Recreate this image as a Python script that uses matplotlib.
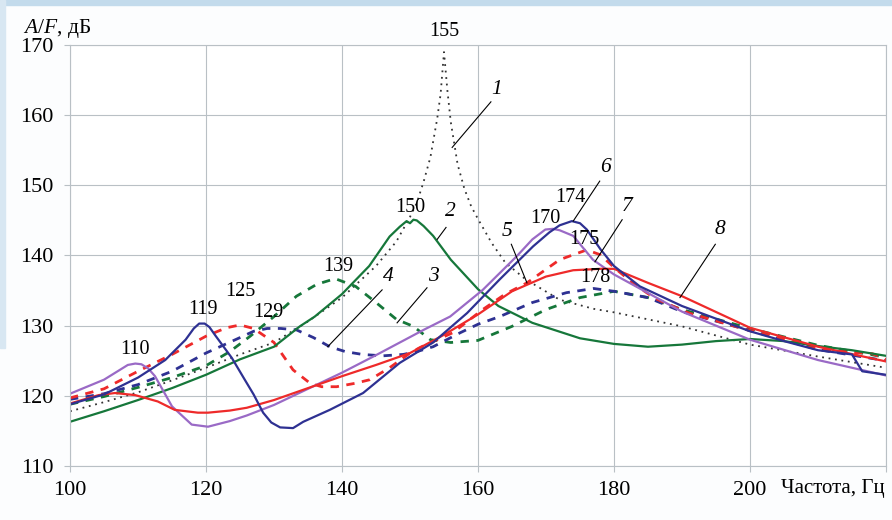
import matplotlib
matplotlib.use("Agg")
import matplotlib.pyplot as plt
from matplotlib.patches import Rectangle

plt.rcParams['font.family'] = ['Liberation Serif', 'DejaVu Serif']
plt.rcParams['mathtext.fontset'] = 'custom'
plt.rcParams['mathtext.it'] = 'Liberation Serif:italic'
plt.rcParams['mathtext.rm'] = 'Liberation Serif'

# curve 1 - black dotted, sharp resonance at 155 Hz
x1 = [100, 105, 110, 115, 120, 125, 130, 135, 140, 145, 148, 150, 151, 152, 153, 154, 154.5, 155,
      155.5, 156, 157, 158, 159, 160, 162, 164, 167, 172, 177, 180, 190, 200, 210, 220]
y1 = [117.8, 119.1, 120.5, 122.2, 124, 125.9, 127.6, 130.6, 134, 138.5, 142, 145.5, 147.5, 150.5, 154, 159.5, 163, 169,
      163.5, 159, 153, 149.5, 147, 145.2, 141.8, 139, 136.6, 133.7, 132.4, 131.9, 129.9, 127.3, 125.6, 124]

# curve 2 - green solid, peak 150 Hz
x2 = [100, 105, 110, 115, 120, 125, 130, 133.8, 136, 140, 144, 147, 148.5, 149.5, 150, 150.5, 151, 152, 153.4, 156, 160,
      163, 168, 175, 180, 185, 190, 195, 200, 205, 210, 215, 220]
y2 = [116.3, 117.8, 119.4, 121.1, 123, 125.2, 127, 129.9, 131.3, 134.5, 138.5, 142.7, 144.1, 144.9, 144.6, 145.1, 145, 144.2, 142.8, 139.4, 135.2,
      132.8, 130.4, 128.2, 127.4, 127, 127.3, 127.8, 128.1, 127.8, 127.1, 126.5, 125.7]

# curve 3 - green dashed, peak 139 Hz
x3 = [100, 105, 110, 115, 120, 123.5, 126.5, 130, 133.3, 136.3, 139, 142, 145, 148, 150.5, 153, 156, 160,
      165, 170, 175, 180, 185, 190, 200, 210, 220]
y3 = [118.8, 119.9, 121.2, 122.6, 124.3, 126.3, 128.5, 131.3, 134.2, 135.9, 136.7, 135.6, 133.3, 130.9, 129.9, 128, 127.6, 127.9,
      129.9, 132.3, 134, 134.9, 134, 132.3, 129.6, 127.2, 125.5]

# curve 4 - blue dashed, peak 129 Hz
x4 = [100, 105, 110, 115, 120, 125, 127, 129, 131, 133.3, 135.8, 138.2, 140.5, 143, 146, 149, 151, 153.4, 157.4,
      160, 163.2, 168, 173, 177, 180, 185, 190, 200, 210, 215, 220]
y4 = [119.5, 120.3, 121.6, 123.5, 126.1, 128.3, 129.2, 129.6, 129.6, 129.4, 128.3, 127, 126.3, 125.9, 125.7, 125.9, 126.3, 127, 129,
      130.2, 131.3, 133.3, 134.7, 135.3, 134.9, 134, 132, 129.3, 126.6, 125.8, 125]

# curve 5 - red dashed, peak 125 Hz
x5 = [100, 105, 110, 115, 120, 123, 125, 127, 130, 132.8, 135.3, 137, 139.2, 142, 144.1, 147, 150, 151.5, 156.3,
      160.7, 164, 167.2, 172, 176, 178, 180, 183, 186, 191, 200, 210, 215, 218, 220]
y5 = [119.7, 121, 123.5, 125.9, 128.5, 129.7, 130.1, 129.6, 127.6, 123.7, 121.8, 121.3, 121.3, 121.8, 122.3, 124, 126.1, 126.9, 129,
      132.3, 134.5, 136.1, 139.4, 140.8, 140.1, 138.3, 135.9, 133.9, 131.8, 129.3, 126.8, 126.2, 126, 125.2]

# curve 6 - navy solid, peaks 119 and 174 Hz
x6 = [100, 105, 110, 114, 117, 118.2, 119, 119.8, 120.5, 121.3, 123.8, 125.7, 127, 128.4, 129.6, 130.9, 132.8, 134.3, 138.2, 143.1, 148.5,
      153.4, 158.4, 163.2, 168.1, 170.5, 172, 173.8, 175, 176, 178, 180, 183.8, 190, 200, 205, 210, 215, 216.5, 220]
y6 = [118.8, 120.2, 122.6, 125.1, 128, 129.6, 130.3, 130.3, 129.8, 128.7, 125.4, 122.3, 120.2, 117.6, 116.2, 115.5, 115.4, 116.3, 118, 120.4, 124.7,
      127.6, 131.8, 136.6, 141.3, 143.3, 144.3, 144.9, 144.6, 143.7, 140.9, 138.5, 135.6, 132.8, 129.2, 127.8, 126.5, 125.9, 123.5, 123]

# curve 7 - purple solid, peaks 110 and 170 Hz
x7 = [100, 105, 108.5, 109.6, 110.5, 111.5, 112.5, 115, 117.9, 120.3, 123.5, 126, 130, 135, 140, 145, 148.5, 152, 155.9, 160.7,
      165.7, 168, 169.9, 171, 172, 174, 176.9, 180, 190, 200, 210, 220]
y7 = [120.3, 122.3, 124.4, 124.6, 124.5, 123.9, 122.8, 118.5, 115.9, 115.6, 116.4, 117.2, 118.7, 121, 123.3, 125.8, 127.6, 129.4, 131.3, 135.1,
      139.9, 142.3, 143.7, 143.8, 143.6, 142.8, 139.4, 137.3, 132, 128, 125.1, 122.9]

# curve 8 - red solid, peak 178 Hz
x8 = [100, 104.2, 106.6, 109.6, 112.9, 115.4, 118.8, 120.3, 123.5, 126, 130, 135, 140, 145, 150, 155, 160, 165,
      170, 174, 178, 180, 185, 190, 200, 210, 220]
y8 = [118.9, 120.1, 120.4, 120.1, 119.2, 118, 117.6, 117.6, 117.9, 118.3, 119.4, 121.1, 122.8, 124.4, 126.1, 128.7, 131.6, 134.9,
      137, 137.9, 138.1, 138.1, 136.1, 134.2, 129.7, 127, 124.9]

# peak frequency labels
peak_labels = ['155', '150', '174', '170', '175', '178', '119', '110', '125', '129', '139']
peak_x = [155.1, 150.0, 173.6, 169.9, 175.7, 177.2, 119.6, 109.6, 125.0, 129.1, 139.4]
peak_y = [171.9, 146.9, 148.3, 145.3, 142.3, 136.9, 132.3, 126.6, 134.9, 131.9, 138.4]

# curve numbers with leader lines
num_labels = ['1', '2', '3', '4', '5', '6', '7', '8']
num_xy = [(162.8, 163.7), (155.9, 146.3), (153.4, 137.0), (146.8, 137.0),
          (164.3, 143.4), (178.7, 152.6), (181.9, 147.0), (195.6, 143.7)]
lead_from = [(161.9, 161.9), (155.3, 144.0), (152.5, 135.4), (145.9, 135.1),
             (164.9, 141.6), (177.9, 150.6), (181.2, 145.1), (194.9, 141.6)]
lead_to = [(156.2, 155.4), (154.0, 142.3), (148.1, 130.4), (137.9, 127.0),
           (167.2, 136.1), (174.0, 144.9), (177.2, 139.1), (189.7, 134.0)]

green = '#16773a'
navy = '#2e3192'
purple = '#9a6ac6'
red = '#ee2a2a'
gridc = '#b9c0c5'

fig = plt.figure(figsize=(8.92, 5.2), dpi=100)
fig.patch.set_facecolor('#fcfdfe')
# light blue slide frame
fig.patches.append(Rectangle((0, 1 - 5 / 520), 1, 5 / 520, transform=fig.transFigure,
                             color='#c3dbec', zorder=0))
fig.patches.append(Rectangle((0, 0.33), 5 / 892, 0.67, transform=fig.transFigure,
                             color='#d8e7f2', zorder=0))

ax = fig.add_axes([70 / 892, 54 / 520, 816 / 892, 421 / 520])
ax.set_facecolor('white')

ax.plot(x1, y1, color='#333333', lw=1.3, linestyle=(0, (1, 2.6)))
ax.plot(x3, y3, color=green, lw=2.0, linestyle=(0, (3, 2.7)))
ax.plot(x4, y4, color=navy, lw=2.0, linestyle=(0, (3, 2.7)))
ax.plot(x5, y5, color=red, lw=2.0, linestyle=(0, (3, 2.7)))
ax.plot(x2, y2, color=green, lw=1.6)
ax.plot(x7, y7, color=purple, lw=1.6)
ax.plot(x8, y8, color=red, lw=1.6)
ax.plot(x6, y6, color=navy, lw=1.6)

for lab, px, py in zip(peak_labels, peak_x, peak_y):
    ax.text(px, py, lab, fontsize=14.5, ha='center', va='center', zorder=5)

for lab, (tx, ty), (ax0, ay0), (ax1, ay1) in zip(num_labels, num_xy, lead_from, lead_to):
    ax.text(tx, ty, lab, fontsize=15.5, style='italic', ha='center', va='center', zorder=5)
    ax.plot([ax0, ax1], [ay0, ay1], color='black', lw=0.8, zorder=5)

ax.set_xlim(100, 220)
ax.set_ylim(110, 170)
ax.set_xticks([100, 120, 140, 160, 180, 200, 220])
ax.set_xticklabels(['100', '120', '140', '160', '180', '200', ''])
ax.set_yticks([110, 120, 130, 140, 150, 160, 170])
ax.tick_params(axis='both', labelsize=16, length=4, color=gridc, width=0.8)
ax.tick_params(axis='x', pad=7)
ax.tick_params(axis='y', pad=8)
ax.grid(True, color=gridc, lw=0.8)
for s in ax.spines.values():
    s.set_color(gridc)
    s.set_linewidth(0.8)

fig.text(23 / 892, 1 - 28 / 520, '$A$/$F$, дБ', fontsize=15.5, ha='left', va='center')
fig.text(885 / 892, 1 - 489 / 520, 'Частота, Гц', fontsize=15, ha='right', va='center')

fig.savefig('out.png', dpi=100, facecolor=fig.get_facecolor())
